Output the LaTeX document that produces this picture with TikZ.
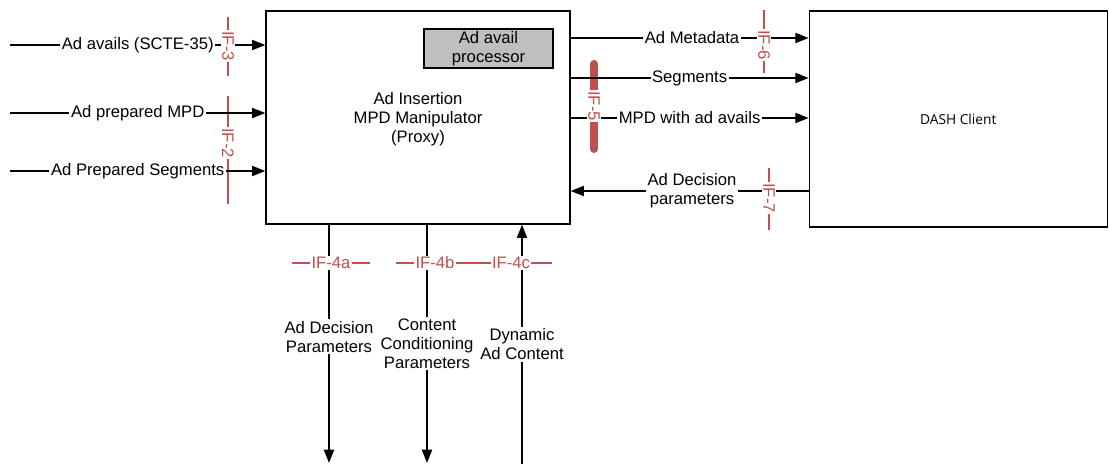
\documentclass[tikz,border=0pt]{standalone}
\usepackage{fontspec}
\setmainfont{Liberation Sans}
\newfontfamily\clientfont{Open Sans}
\usetikzlibrary{arrows.meta,positioning}

\definecolor{ifred}{RGB}{192,80,77}
\definecolor{procgray}{RGB}{191,191,191}

\tikzset{
  bloc/.style={draw, line width=0.9pt, align=center,
    font=\fontsize{12.5}{14.25}\selectfont},
  flux/.style={line width=1.5pt, -{Triangle[length=10pt,width=7.5pt]}},
  lbl/.style={fill=white, inner sep=1.2pt, align=center,
    font=\fontsize{12.5}{14.25}\selectfont},
  ifbar/.style={draw=ifred, line width=2.2pt},
  iflbl/.style={fill=white, text=ifred, inner sep=1pt,
    font=\fontsize{12.5}{14}\selectfont},
}

\begin{document}
\begin{tikzpicture}[x=0.75pt, y=-0.75pt]

   \useasboundingbox (0,0) rectangle (1109,464);

   % Blocs
   \node[bloc, minimum width=228pt, minimum height=159.75pt] (proxy) at (418,117.5) {};
   \node[align=center, font=\fontsize{12.5}{14.25}\selectfont] (proxytxt) at (418,119)
        {Ad Insertion\\MPD Manipulator\\(Proxy)};
   \node[bloc, fill=procgray, minimum width=96.75pt, minimum height=29.25pt,
         inner sep=0pt] (proc) at (488.5,48.5) {Ad avail\\processor};
   \node[bloc, minimum width=223.5pt, minimum height=162pt, font=\clientfont\fontsize{10.3}{12}\selectfont]
        (client) at (958.25,119) {DASH Client};

   % Barres des interfaces
   \draw[ifbar] (228,17) -- (228,76);
   \draw[ifbar] (228,96) -- (228,204);
   \draw[ifbar, line width=6pt, line cap=round] (594,64) -- (594,149);
   \draw[ifbar] (764,10) -- (764,73);
   \draw[ifbar] (769,168) -- (769,230);
   \draw[ifbar] (292,263) -- (370,263);
   \draw[ifbar] (396,263) -- (552,263);

   % Entrées à gauche
   \coordinate (in1) at (10,45);
   \coordinate (in2) at (10,113);
   \coordinate (in3) at (10,171);
   \draw[flux] (in1) -- node[lbl] {Ad avails (SCTE-35)} (proxy.west |- in1);
   \draw[flux] (in2) -- node[lbl] {Ad prepared MPD} (proxy.west |- in2);
   \draw[flux] (in3) -- node[lbl] {Ad Prepared Segments} (proxy.west |- in3);

   % Liens vers le client DASH
   \draw[flux] (proxy.east |- 0,38) -- node[lbl, pos=0.51] {Ad Metadata} (client.west |- 0,38);
   \draw[flux] (proxy.east |- 0,78) -- node[lbl] {Segments} (client.west |- 0,78);
   \draw[flux] (proxy.east |- 0,118) -- node[lbl] {MPD with ad avails} (client.west |- 0,118);
   \draw[flux] (client.west |- 0,191) -- node[lbl, pos=0.49] {Ad Decision\\parameters} (proxy.east |- 0,191);

   % Sorties en bas
   \coordinate (out1) at (329,463);
   \coordinate (out2) at (427,463);
   \coordinate (dyn) at (522,464);
   \draw[flux] (proxy.south -| out1) -- node[lbl, pos=0.47] {Ad Decision\\Parameters} (out1);
   \draw[flux] (proxy.south -| out2) -- node[lbl] {Content\\Conditioning\\Parameters} (out2);
   \draw[flux] (dyn) -- node[lbl] {Dynamic\\Ad Content} (proxy.south -| dyn);

   % Étiquettes des interfaces
   \node[iflbl, rotate=-90] (if3) at (228,46) {IF-3};
   \node[iflbl, rotate=-90] (if2) at (228,143) {IF-2};
   \node[iflbl, rotate=-90] (if5) at (594,106) {IF-5};
   \node[iflbl, rotate=-90] (if6) at (764,45) {IF-6};
   \node[iflbl, rotate=-90] (if7) at (769,198) {IF-7};
   \node[iflbl] (if4a) at (331,263) {IF-4a};
   \node[iflbl] (if4b) at (435,263) {IF-4b};
   \node[iflbl] (if4c) at (511,263) {IF-4c};

\end{tikzpicture}
\end{document}
